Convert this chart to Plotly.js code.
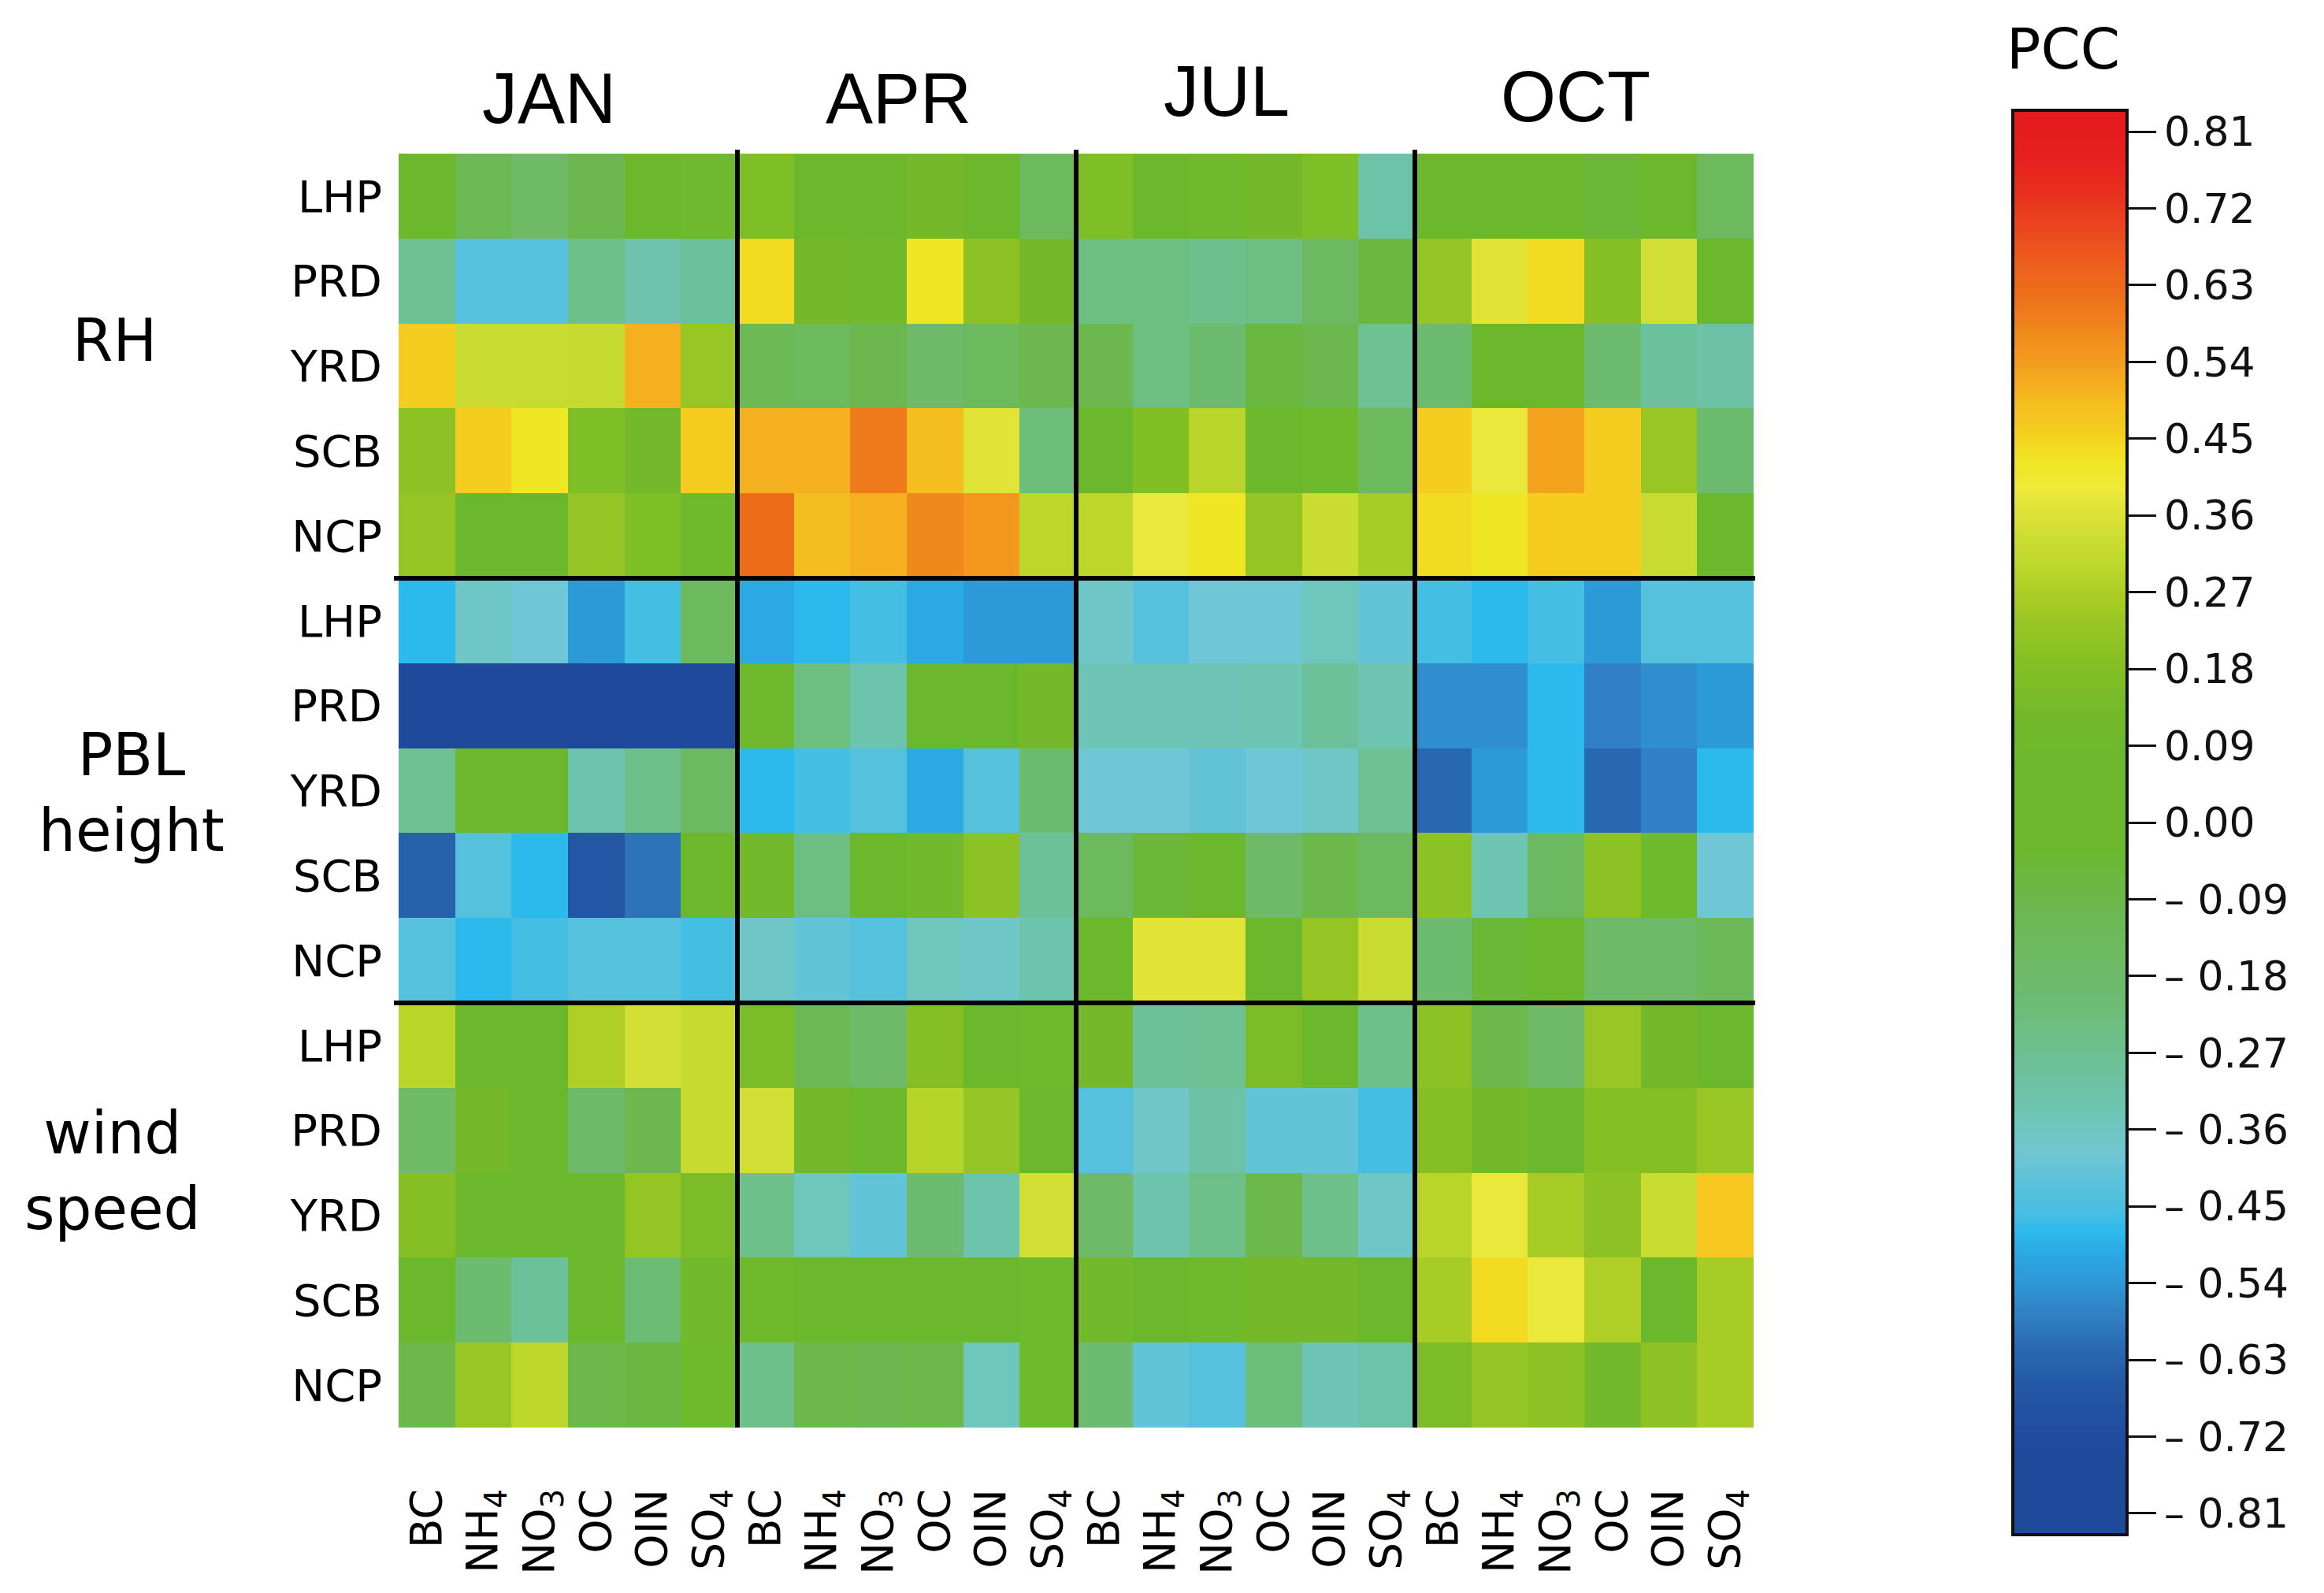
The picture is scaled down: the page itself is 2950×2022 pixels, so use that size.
<!DOCTYPE html>
<html><head><meta charset="utf-8">
<script src="https://cdn.plot.ly/plotly-3.0.1.min.js"></script>
<style>html,body{margin:0;padding:0;background:#fff}#chart{width:2950px;height:2022px}</style>
</head><body><div id="chart"></div>
<script>
// ---- categories ----
const months = ['JAN','APR','JUL','OCT'];
const species = ['BC','NH<sub>4</sub>','NO<sub>3</sub>','OC','OIN','SO<sub>4</sub>'];
const regions = ['LHP','PRD','YRD','SCB','NCP'];
const variables = ['RH','PBL<br>height','wind<br>speed'];

// ---- PCC values, each row: JAN(BC..SO4) APR(...) JUL(...) OCT(...) ----
const RH_LHP  = [0.02,-0.11,-0.165,-0.10,0.00,0.08,   0.165,0.00,0.00,0.13,0.00,-0.14,   0.165,0.00,0.09,0.13,0.165,-0.315,   0.00,0.00,0.00,-0.05,0.00,-0.14];
const RH_PRD  = [-0.275,-0.43,-0.43,-0.255,-0.32,-0.295,   0.44,0.13,0.10,0.42,0.205,0.13,   -0.24,-0.24,-0.26,-0.24,-0.155,-0.06,   0.22,0.37,0.44,0.185,0.34,0.00];
const RH_YRD  = [0.46,0.325,0.325,0.32,0.51,0.23,   -0.12,-0.14,-0.10,-0.18,-0.14,-0.10,   -0.10,-0.24,-0.20,-0.06,-0.10,-0.275,   -0.20,0.00,0.00,-0.20,-0.295,-0.31];
const RH_SCB  = [0.205,0.46,0.42,0.165,0.12,0.46,   0.51,0.51,0.60,0.49,0.37,-0.225,   0.00,0.175,0.295,0.00,0.09,-0.14,   0.46,0.385,0.53,0.46,0.23,-0.20];
const RH_NCP  = [0.22,0.00,0.00,0.22,0.165,0.09,   0.625,0.49,0.51,0.575,0.55,0.30,   0.30,0.385,0.42,0.22,0.33,0.26,   0.44,0.42,0.46,0.46,0.325,0.00];
const PBL_LHP = [-0.48,-0.37,-0.39,-0.535,-0.46,-0.14,   -0.505,-0.48,-0.46,-0.505,-0.535,-0.535,   -0.37,-0.43,-0.39,-0.39,-0.355,-0.41,   -0.46,-0.48,-0.46,-0.535,-0.43,-0.43];
const PBL_PRD = [-0.79,-0.79,-0.79,-0.78,-0.78,-0.81,   0.09,-0.24,-0.325,0.00,0.00,0.13,   -0.34,-0.34,-0.34,-0.335,-0.29,-0.335,   -0.555,-0.555,-0.48,-0.575,-0.555,-0.535];
const PBL_YRD = [-0.275,0.00,0.00,-0.325,-0.255,-0.155,   -0.48,-0.46,-0.43,-0.505,-0.43,-0.20,   -0.39,-0.39,-0.41,-0.39,-0.37,-0.275,   -0.62,-0.535,-0.48,-0.62,-0.575,-0.48];
const PBL_SCB = [-0.635,-0.43,-0.48,-0.67,-0.60,0.00,   0.11,-0.24,0.00,0.11,0.205,-0.29,   -0.14,-0.05,0.00,-0.175,-0.09,-0.155,   0.205,-0.335,-0.155,0.205,0.09,-0.39];
const PBL_NCP = [-0.43,-0.48,-0.46,-0.43,-0.43,-0.46,   -0.37,-0.41,-0.43,-0.355,-0.37,-0.325,   0.00,0.37,0.37,0.00,0.22,0.325,   -0.20,-0.05,0.00,-0.175,-0.175,-0.13];
const WS_LHP  = [0.295,0.00,0.00,0.275,0.345,0.32,   0.155,-0.11,-0.175,0.185,0.00,0.09,   0.13,-0.29,-0.275,0.155,0.00,-0.255,   0.205,-0.09,-0.175,0.23,0.13,0.00];
const WS_PRD  = [-0.165,0.13,0.00,-0.175,-0.10,0.32,   0.34,0.13,0.00,0.29,0.22,0.00,   -0.43,-0.37,-0.31,-0.41,-0.41,-0.46,   0.185,0.13,0.00,0.185,0.185,0.23];
const WS_YRD  = [0.185,0.00,0.00,0.00,0.22,0.155,   -0.255,-0.355,-0.41,-0.20,-0.325,0.34,   -0.175,-0.325,-0.255,-0.09,-0.255,-0.37,   0.295,0.385,0.26,0.205,0.325,0.47];
const WS_SCB  = [0.00,-0.20,-0.29,0.00,-0.21,0.11,   0.09,0.00,0.00,0.00,0.00,0.09,   0.11,0.00,0.09,0.13,0.13,0.00,   0.26,0.44,0.385,0.275,0.00,0.26];
const WS_NCP  = [-0.09,0.23,0.30,-0.09,-0.06,0.09,   -0.255,-0.09,-0.10,-0.09,-0.355,0.09,   -0.20,-0.41,-0.43,-0.225,-0.34,-0.315,   0.155,0.22,0.205,0.11,0.205,0.26];

// ---- colour bar ticks ----
const cbTickVals = [0.81,0.72,0.63,0.54,0.45,0.36,0.27,0.18,0.09,0.00,-0.09,-0.18,-0.27,-0.36,-0.45,-0.54,-0.63,-0.72,-0.81];
const cbTickText = ['0.81','0.72','0.63','0.54','0.45','0.36','0.27','0.18','0.09','0.00','\u2013 0.09','\u2013 0.18','\u2013 0.27','\u2013 0.36','\u2013 0.45','\u2013 0.54','\u2013 0.63','\u2013 0.72','\u2013 0.81'];
const cbTitle = 'PCC';

// ---- colormap (value, colour) ----
const zLim = 0.835;
const cmap = [
 [-0.835,'#1F4A9C'],[-0.75,'#1F4A9C'],[-0.72,'#204C9F'],[-0.69,'#2251A2'],[-0.67,'#2356A5'],[-0.645,'#255EAA'],
 [-0.62,'#2868B0'],[-0.60,'#2D73BA'],[-0.575,'#3180C5'],[-0.555,'#2F8ECE'],[-0.535,'#2D9AD8'],[-0.505,'#2BA9E2'],
 [-0.48,'#2CB9EC'],[-0.46,'#45BEE4'],[-0.43,'#56C1DD'],[-0.41,'#63C3D7'],[-0.39,'#6FC6D4'],[-0.37,'#6FC6C6'],
 [-0.34,'#6EC5B5'],[-0.32,'#6DC3AB'],[-0.29,'#6CC19A'],[-0.26,'#6DC08C'],[-0.24,'#6DBF81'],[-0.20,'#6DBB6F'],
 [-0.175,'#6EBA68'],[-0.14,'#6DB95D'],[-0.10,'#6CB84F'],[-0.06,'#6BB840'],[-0.035,'#6BB82D'],[0.055,'#6BB82D'],
 [0.09,'#6FB92D'],[0.12,'#73B92B'],[0.145,'#78BA29'],[0.165,'#7EBE27'],[0.185,'#85BF23'],[0.205,'#8CC223'],
 [0.22,'#94C524'],[0.235,'#9AC625'],[0.26,'#A7CC25'],[0.28,'#B1D028'],[0.30,'#BCD72A'],[0.325,'#C8DB30'],
 [0.345,'#D4DF35'],[0.37,'#E2E337'],[0.39,'#EDEB3C'],[0.42,'#F0E724'],[0.44,'#F3DB21'],[0.46,'#F5CC20'],
 [0.49,'#F5BE1F'],[0.51,'#F4B01E'],[0.53,'#F4A31E'],[0.55,'#F3971E'],[0.575,'#F0891C'],[0.60,'#EE7A1B'],
 [0.625,'#EC6C1A'],[0.65,'#ED621D'],[0.67,'#EC561D'],[0.69,'#EA4A1E'],[0.71,'#EA3F1F'],[0.74,'#E8301E'],
 [0.76,'#E6261D'],[0.79,'#E51E1D'],[0.835,'#E51A1E']
];
const colorscale = cmap.map(([v,c]) => [(v + zLim) / (2*zLim), c]);

// ---- assemble ----
const z = [RH_LHP,RH_PRD,RH_YRD,RH_SCB,RH_NCP, PBL_LHP,PBL_PRD,PBL_YRD,PBL_SCB,PBL_NCP, WS_LHP,WS_PRD,WS_YRD,WS_SCB,WS_NCP];
const xLabels = []; months.forEach(() => species.forEach(s => xLabels.push(s)));
const yLabels = []; variables.forEach(() => regions.forEach(r => yLabels.push(r)));
const xIdx = xLabels.map((_, i) => i);
const yIdx = yLabels.map((_, i) => i);

// layout geometry (pixels)
const W = 2950, H = 2022;
const mL = 506, mR = 724, mT = 195, mB = 210;
const pw = W - mL - mR, ph = H - mT - mB;
const px2x = p => (p - mL) / pw;
const px2y = p => (H - mB - p) / ph;

const trace = {
  type: 'heatmap', x: xIdx, y: yIdx, z: z,
  zmin: -zLim, zmax: zLim, colorscale: colorscale,
  xgap: 0, ygap: 0, hoverongaps: false,
  colorbar: {
    x: px2x(2555), xanchor: 'left', xpad: 0,
    y: px2y(1044), yanchor: 'middle', ypad: 0,
    len: 1808, lenmode: 'pixels', thickness: 145, thicknessmode: 'pixels',
    outlinewidth: 4, outlinecolor: '#111',
    tickmode: 'array', tickvals: cbTickVals, ticktext: cbTickText,
    ticks: 'outside', ticklen: 35, tickwidth: 3, tickcolor: '#111',
    tickfont: {family: 'DejaVu Sans', size: 52, color: '#111'}
  }
};

const shapes = [];
for (let m = 1; m < months.length; m++) {
  shapes.push({type:'line', xref:'x', yref:'paper', x0: m*species.length - 0.5, x1: m*species.length - 0.5,
    y0: 0, y1: px2y(190), line:{color:'#000', width:6}});
}
for (let v = 1; v < variables.length; v++) {
  shapes.push({type:'line', xref:'paper', yref:'y', y0: v*regions.length - 0.5, y1: v*regions.length - 0.5,
    x0: px2x(500), x1: px2x(2228), line:{color:'#000', width:6}});
}

const monthX = [697, 1140, 1557, 2000];
const monthY = [125, 125, 116, 123];
const varX = [145, 167, 143];
const varY = [432, 1006, 1486];
const annotations = [];
months.forEach((m, i) => annotations.push({text: m, xref:'paper', yref:'paper', x: px2x(monthX[i]), y: px2y(monthY[i]),
  xanchor:'center', yanchor:'middle', showarrow:false, font:{family:'Liberation Sans, Arial', size:90, color:'#000'}}));
variables.forEach((v, i) => annotations.push({text: v, xref:'paper', yref:'paper', x: px2x(varX[i]), y: px2y(varY[i]),
  xanchor:'center', yanchor:'middle', showarrow:false, align:'center', font:{family:'DejaVu Sans', size:74, color:'#000'}}));
annotations.push({text: cbTitle, xref:'paper', yref:'paper', x: px2x(2619), y: px2y(62), xanchor:'center', yanchor:'middle',
  showarrow:false, font:{family:'DejaVu Sans', size:72, color:'#000'}});

const layout = {
  width: W, height: H,
  margin: {l: mL, r: mR, t: mT, b: mB, pad: 0},
  paper_bgcolor: '#fff', plot_bgcolor: '#fff',
  xaxis: {tickmode:'array', tickvals: xIdx, ticktext: xLabels, tickangle: -90, ticks:'', showgrid:false, zeroline:false,
    showline:false, range:[-0.5, xIdx.length - 0.5], ticklabelstandoff: 66,
    tickfont:{family:'DejaVu Sans', size:55, color:'#000'}},
  yaxis: {tickmode:'array', tickvals: yIdx, ticktext: yLabels, ticks:'', showgrid:false, zeroline:false,
    showline:false, range:[yIdx.length - 0.5, -0.5], ticklabelstandoff: 20,
    tickfont:{family:'DejaVu Sans', size:56, color:'#000'}},
  shapes: shapes, annotations: annotations, showlegend:false
};

Plotly.newPlot('chart', [trace], layout, {displayModeBar:false, staticPlot:true});
</script></body></html>
